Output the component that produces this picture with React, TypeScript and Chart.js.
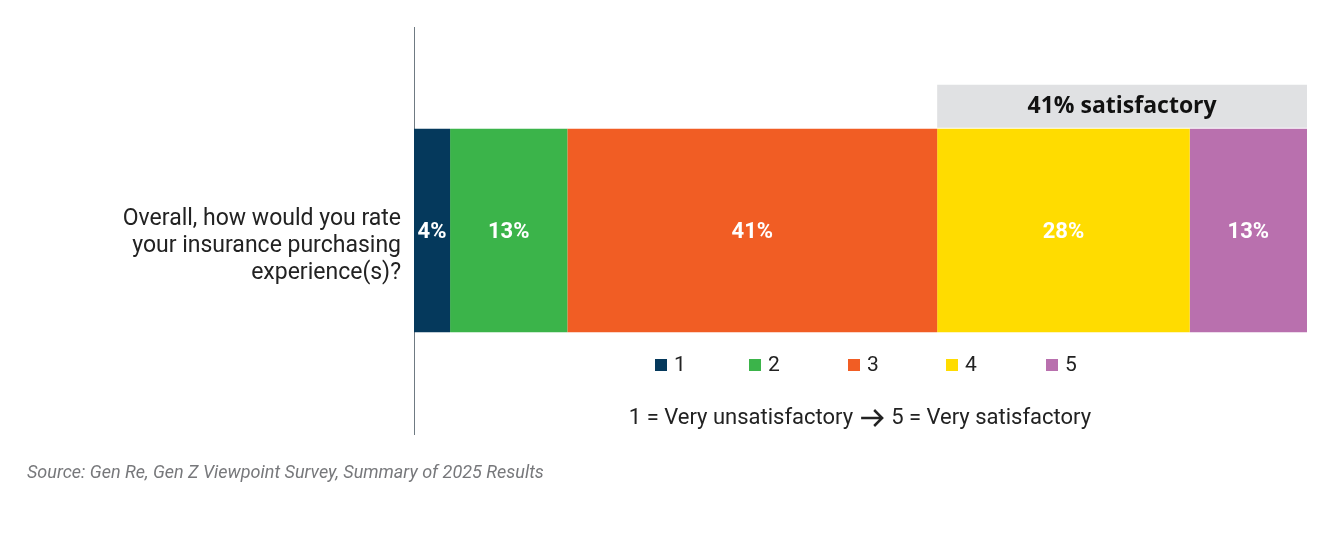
import React, { useEffect, useRef } from "react";
import { Chart, registerables } from "chart.js";

Chart.register(...registerables);

const categories = [["Overall, how would you rate", "your insurance purchasing", "experience(s)?"]];
const seriesLabels = ["1", "2", "3", "4", "5"];
const seriesValues = [4, 13, 41, 28, 13];
const seriesColors = ["#05395c", "#3bb44a", "#f15d24", "#ffdc00", "#b970ae"];
const satisfactoryFrom = 3; // index of first "satisfactory" series
const noteLeft = "1 = Very unsatisfactory";
const noteRight = "5 = Very satisfactory";
const sourceText = "Source: Gen Re, Gen Z Viewpoint Survey, Summary of 2025 Results";

const FONT = "Roboto, 'Open Sans', sans-serif";

export default function App() {
  const ref = useRef<HTMLCanvasElement | null>(null);
  useEffect(() => {
    document.body.style.margin = "0";
    const total = seriesValues.reduce((a, b) => a + b, 0);
    const overlay = {
      id: "overlay",
      afterDatasetsDraw(chart: any) {
        const ctx = chart.ctx;
        const x = chart.scales.x;
        const y = chart.scales.y;
        ctx.save();
        // data labels
        let cum = 0;
        const yc = y.getPixelForValue(0);
        ctx.font = `bold 22px ${FONT}`;
        ctx.fillStyle = "#ffffff";
        ctx.textAlign = "center";
        ctx.textBaseline = "middle";
        seriesValues.forEach((v) => {
          const cx = (x.getPixelForValue(cum) + x.getPixelForValue(cum + v)) / 2;
          ctx.fillText(`${v}%`, cx, yc + 2);
          cum += v;
        });
        // satisfactory box
        const meta = chart.getDatasetMeta(0);
        const barTop = meta.data[0].y - meta.data[0].height / 2;
        const startVal = seriesValues.slice(0, satisfactoryFrom).reduce((a, b) => a + b, 0);
        const satVal = seriesValues.slice(satisfactoryFrom).reduce((a, b) => a + b, 0);
        const bx0 = x.getPixelForValue(startVal);
        const bx1 = x.getPixelForValue(total);
        ctx.fillStyle = "#e0e1e3";
        ctx.fillRect(bx0, barTop - 44, bx1 - bx0, 43);
        ctx.fillStyle = "#111111";
        ctx.font = `bold 23px 'Open Sans', sans-serif`;
        ctx.fillText(`${satVal}% satisfactory`, (bx0 + bx1) / 2, barTop - 22);
        // legend
        const legendX = [655, 749, 848, 946, 1046];
        ctx.font = `21px ${FONT}`;
        ctx.textAlign = "left";
        seriesLabels.forEach((l, i) => {
          ctx.fillStyle = seriesColors[i];
          ctx.fillRect(legendX[i], 359, 12, 12);
          ctx.fillStyle = "#222222";
          ctx.fillText(l, legendX[i] + 19, 366);
        });
        // scale note with arrow
        ctx.font = `22px ${FONT}`;
        const wl = ctx.measureText(noteLeft).width;
        const wr = ctx.measureText(noteRight).width;
        const aw = 22;
        const gap = 8;
        const totalW = wl + gap + aw + gap + wr;
        let sx = 860 - totalW / 2;
        const ny = 418;
        ctx.fillText(noteLeft, sx, ny);
        sx += wl + gap;
        ctx.strokeStyle = "#222222";
        ctx.lineWidth = 2.5;
        ctx.beginPath();
        ctx.moveTo(sx, ny);
        ctx.lineTo(sx + aw - 1, ny);
        ctx.moveTo(sx + aw - 9, ny - 8);
        ctx.lineTo(sx + aw - 1, ny);
        ctx.lineTo(sx + aw - 9, ny + 8);
        ctx.stroke();
        sx += aw + gap;
        ctx.fillText(noteRight, sx, ny);
        // source
        ctx.fillStyle = "#77787b";
        ctx.font = `italic 18px ${FONT}`;
        ctx.fillText(sourceText, 27, 473);
        ctx.restore();
      },
    };
    const chart = new Chart(ref.current as HTMLCanvasElement, {
      type: "bar",
      data: {
        labels: categories as any,
        datasets: seriesLabels.map((l, i) => ({
          label: l,
          data: [seriesValues[i]],
          backgroundColor: seriesColors[i],
          borderWidth: 0,
          barPercentage: 1,
          categoryPercentage: 0.5,
        })),
      },
      options: {
        indexAxis: "y",
        animation: false,
        responsive: false,
        layout: { padding: { left: 0, right: 27, top: 27, bottom: 100 } },
        plugins: { legend: { display: false }, tooltip: { enabled: false } },
        scales: {
          x: { stacked: true, display: false, min: 0, max: total },
          y: {
            stacked: true,
            grid: { display: false },
            border: { display: true, color: "#6f7a82", width: 1 },
            ticks: {
              color: "#222222",
              padding: 5,
              labelOffset: 16,
              font: { family: FONT, size: 23, lineHeight: "27px" },
            },
            afterFit(scale: any) {
              scale.width = 414;
              scale.paddingTop = 0;
              scale.paddingBottom = 0;
            },
          },
        },
      },
      plugins: [overlay],
    } as any);
    return () => chart.destroy();
  }, []);
  return (
    <div style={{ width: 1334, height: 534 }}>
      <canvas ref={ref} width={1334} height={534} style={{ display: "block" }} />
    </div>
  );
}
